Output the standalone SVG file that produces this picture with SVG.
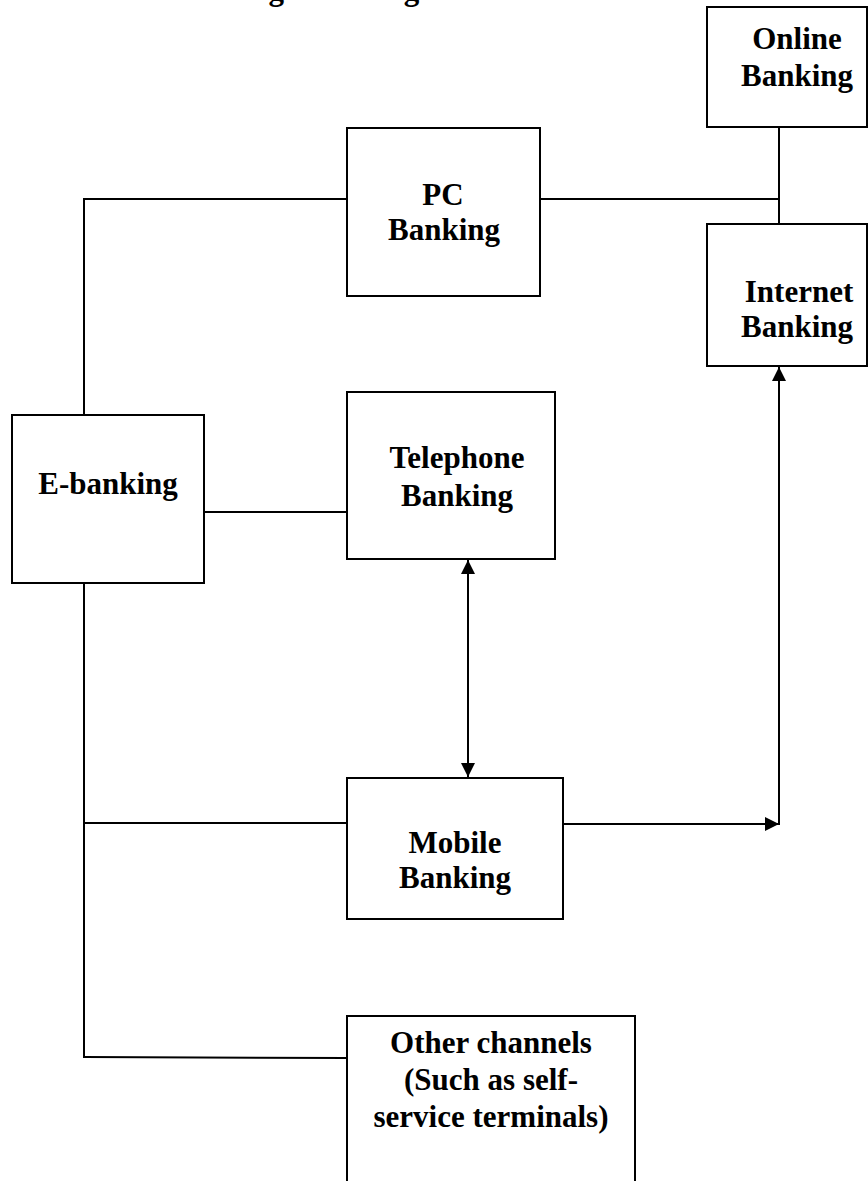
<svg xmlns="http://www.w3.org/2000/svg" width="868" height="1181" viewBox="0 0 868 1181">
<style>
.box{fill:#fff;stroke:#000;stroke-width:2}
.ln{fill:none;stroke:#000;stroke-width:2}
.t{font-family:"Liberation Serif","Times New Roman",serif;font-weight:bold;font-size:31px;fill:#000;text-anchor:middle}
</style>
<defs>
<marker id="ah" viewBox="0 0 14 14" refX="14" refY="7" markerWidth="14" markerHeight="14" markerUnits="userSpaceOnUse" orient="auto-start-reverse">
<path d="M0,0 L14,7 L0,14 Z" fill="#000"/>
</marker>
</defs>
<rect width="868" height="1181" fill="#fff"/>
<text class="t" x="24" y="0" style="text-anchor:start">Forms of e-banking technologies</text>
<g id="connectors">
<line class="ln" x1="779" y1="127" x2="779" y2="224"/>
<line class="ln" x1="540" y1="199" x2="779" y2="199"/>
<polyline class="ln" points="347,199 84,199 84,415"/>
<line class="ln" x1="204" y1="512" x2="347" y2="512"/>
<line class="ln" x1="84" y1="583" x2="84" y2="1058"/>
<line class="ln" x1="84" y1="823" x2="347" y2="823"/>
<line class="ln" x1="84" y1="1057" x2="347" y2="1058"/>
<line class="ln" x1="468" y1="560" x2="468" y2="777" marker-start="url(#ah)" marker-end="url(#ah)"/>
<line class="ln" x1="563" y1="824" x2="779" y2="824" marker-end="url(#ah)"/>
<line class="ln" x1="779" y1="825" x2="779" y2="367" marker-end="url(#ah)"/>
</g>
<g id="online">
<rect class="box" x="707" y="7" width="160" height="120"/>
<text class="t" x="797" y="49">Online</text>
<text class="t" x="797" y="86">Banking</text>
</g>
<g id="internet">
<rect class="box" x="707" y="224" width="160" height="142"/>
<text class="t" x="799" y="302">Internet</text>
<text class="t" x="797" y="337">Banking</text>
</g>
<g id="pc">
<rect class="box" x="347" y="128" width="193" height="168"/>
<text class="t" x="443" y="205">PC</text>
<text class="t" x="444" y="240">Banking</text>
</g>
<g id="ebanking">
<rect class="box" x="12" y="415" width="192" height="168"/>
<text class="t" x="108" y="494">E-banking</text>
</g>
<g id="telephone">
<rect class="box" x="347" y="392" width="208" height="167"/>
<text class="t" x="457" y="468">Telephone</text>
<text class="t" x="457" y="506">Banking</text>
</g>
<g id="mobile">
<rect class="box" x="347" y="778" width="216" height="141"/>
<text class="t" x="455" y="853">Mobile</text>
<text class="t" x="455" y="888">Banking</text>
</g>
<g id="other">
<rect class="box" x="347" y="1016" width="288" height="200"/>
<text class="t" x="491" y="1053">Other channels</text>
<text class="t" x="491" y="1090">(Such as self-</text>
<text class="t" x="491" y="1127">service terminals)</text>
</g>
</svg>
